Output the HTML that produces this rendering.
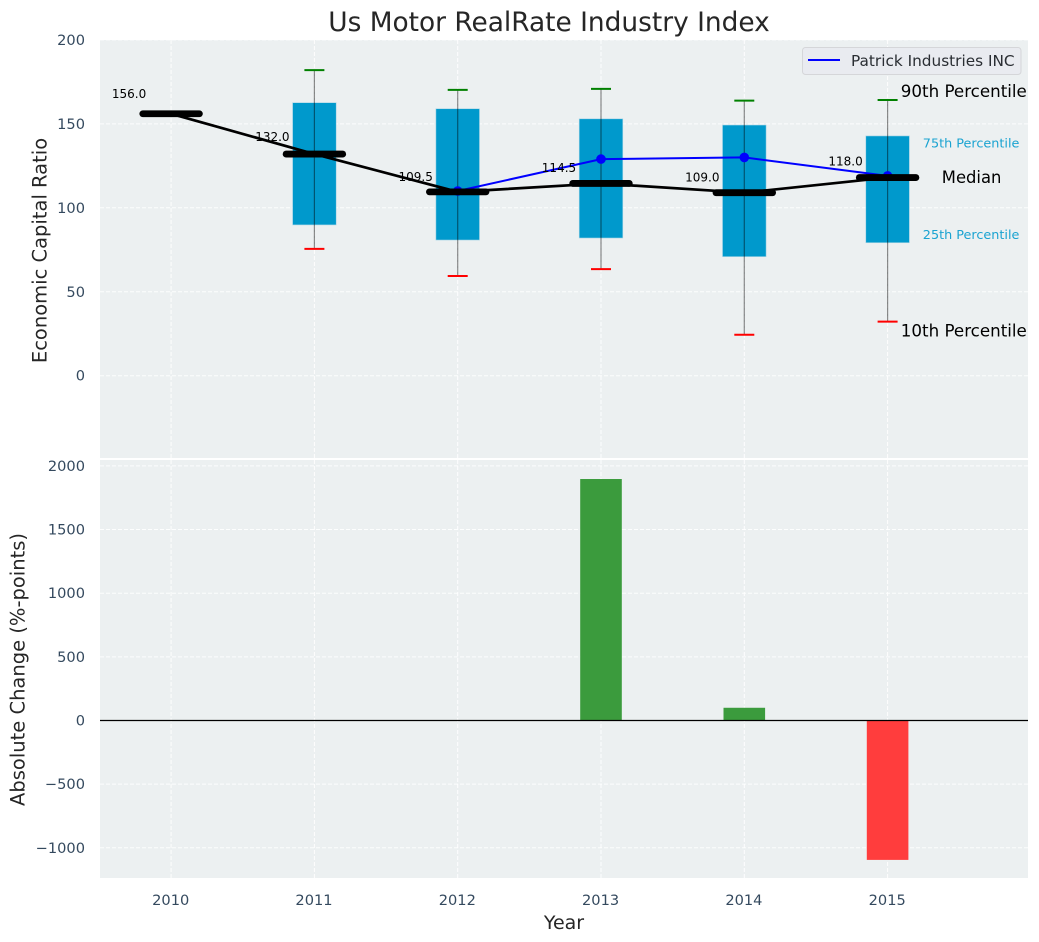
<!DOCTYPE html>
<html>
<head>
<meta charset="utf-8">
<title>Us Motor RealRate Industry Index</title>
<style>
html,body{margin:0;padding:0;background:#fff;width:1039px;height:942px;overflow:hidden}
svg{display:block}
text{font-family:"DejaVu Sans","Liberation Sans",sans-serif}
</style>
</head>
<body>
<svg id="chart" xmlns="http://www.w3.org/2000/svg" width="1039" height="942" viewBox="0 0 1039 942"></svg>
<script>
const years = [2010, 2011, 2012, 2013, 2014, 2015];
const p90 = [null, 182, 170.2, 170.8, 163.8, 164.2];
const p75 = [null, 162.6, 159, 153, 149.3, 142.8];
const p25 = [null, 89.8, 80.8, 82, 70.9, 79.2];
const p10 = [null, 75.5, 59.4, 63.5, 24.4, 32.2];
const medians = [156, 132, 109.5, 114.5, 109, 118];
const company = [null, null, 110, 129, 130, 119];
const changes = [null, null, null, 1897, 100, -1095];
const topTicks = [0, 50, 100, 150, 200];
const bottomTicks = [-1000, -500, 0, 500, 1000, 1500, 2000];

const NS = 'http://www.w3.org/2000/svg';
const svg = document.getElementById('chart');
const L = 100, R = 1028;
const T1 = 40, B1 = 458, T2 = 460, B2 = 878;

const xS = v => 171.1 + (v - 2010) * 143.3;
const yTop = v => 375.7 - v * 1.679;
const yBot = v => 720.5 - v * 0.1273;
const fmtTick = v => (v < 0 ? '\u2212' + Math.abs(v) : String(v));

function mk(tag, attrs, parent) {
  const el = document.createElementNS(NS, tag);
  for (const k in attrs) el.setAttribute(k, attrs[k]);
  (parent || svg).appendChild(el);
  return el;
}
function label(str, attrs, parent) {
  const el = mk('text', attrs, parent);
  el.textContent = str;
  return el;
}
const GRID = {stroke: '#ffffff', 'stroke-width': 1, 'stroke-dasharray': '4 2', 'stroke-opacity': 0.9};
const TICK = '#34495e';

/* panels */
let el = mk('rect', {x: L, y: T1, width: R - L, height: B1 - T1, fill: '#ecf0f1'});


el = mk('rect', {x: L, y: T2, width: R - L, height: B2 - T2, fill: '#ecf0f1'});



/* grid and ticks */
topTicks.forEach(v => {
  let g = mk('line', Object.assign({x1: L, x2: R, y1: yTop(v), y2: yTop(v)}, GRID));
  
  
  let t = label(fmtTick(v), {x: 85, y: yTop(v) + 5, 'text-anchor': 'end', 'font-size': 14.6, fill: TICK});
  
  
});
bottomTicks.forEach(v => {
  let g = mk('line', Object.assign({x1: L, x2: R, y1: yBot(v), y2: yBot(v)}, GRID));
  
  
  let t = label(fmtTick(v), {x: 85, y: yBot(v) + 5, 'text-anchor': 'end', 'font-size': 14.6, fill: TICK});
  
  
});
years.forEach(v => {
  let g = mk('line', Object.assign({x1: xS(v), x2: xS(v), y1: T1, y2: B1}, GRID));
  
  
  g = mk('line', Object.assign({x1: xS(v), x2: xS(v), y1: T2, y2: B2}, GRID));
  
  
  let t = label(String(v), {x: xS(v) - 0.4, y: 905, 'text-anchor': 'middle', 'font-size': 14.6, fill: TICK});
  
  
});

/* percentile boxes */
years.forEach((yr, i) => {
  if (p75[i] === null) return;
  const x = xS(yr);
  let b = mk('rect', {x: x - 21.8, y: yTop(p75[i]), width: 43.6, height: yTop(p25[i]) - yTop(p75[i]), fill: '#0099cc', stroke: '#a9d5e6', 'stroke-width': 0.6});
  
  
});
/* whiskers and caps */
years.forEach((yr, i) => {
  if (p90[i] === null) return;
  const x = xS(yr);
  let w = mk('line', {x1: x, x2: x, y1: yTop(p90[i]), y2: yTop(p10[i]), stroke: '#000', 'stroke-opacity': 0.45, 'stroke-width': 1.2});
  
  
  let c = mk('line', {x1: x - 10, x2: x + 10, y1: yTop(p90[i]), y2: yTop(p90[i]), stroke: '#008000', 'stroke-width': 2});
  
  
  c = mk('line', {x1: x - 10, x2: x + 10, y1: yTop(p10[i]), y2: yTop(p10[i]), stroke: '#ff0000', 'stroke-width': 2});
  
  
});

/* company series */
const cPts = years.map((yr, i) => company[i] === null ? null : xS(yr) + ',' + yTop(company[i])).filter(Boolean).join(' ');
el = mk('polyline', {points: cPts, fill: 'none', stroke: '#0000ff', 'stroke-width': 2});


years.forEach((yr, i) => {
  if (company[i] === null) return;
  let d = mk('circle', {cx: xS(yr), cy: yTop(company[i]), r: 4.8, fill: '#0000ff'});
  
  
});

/* median series */
const mPts = years.map((yr, i) => xS(yr) + ',' + yTop(medians[i])).join(' ');
el = mk('polyline', {points: mPts, fill: 'none', stroke: '#000', 'stroke-width': 2.7});


years.forEach((yr, i) => {
  const x = xS(yr);
  let m = mk('line', {x1: x - 28.3, x2: x + 28.3, y1: yTop(medians[i]), y2: yTop(medians[i]), stroke: '#000', 'stroke-width': 6.8, 'stroke-linecap': 'round'});
  
  
  let t = label(medians[i].toFixed(1), {x: x - 59.2, y: yTop(medians[i] * 1.06), 'font-size': 12, fill: '#000'});
  
  
});

/* annotations for last year */
const last = years.length - 1;
const lx = xS(years[last]);
el = label('90th Percentile', {x: lx + 13.2, y: yTop(p90[last] + 5) + 5.5, 'font-size': 16.7, fill: '#000'});


el = label('75th Percentile', {x: lx + 35.2, y: yTop(p75[last]) + 7 + 4.5, 'font-size': 12.8, fill: '#1aa3d1'});


el = label('Median', {x: lx + 54.2, y: yTop(medians[last]) + 5.5, 'font-size': 16.4, fill: '#000'});


el = label('25th Percentile', {x: lx + 35.2, y: yTop(p25[last]) - 8 + 4.5, 'font-size': 12.8, fill: '#1aa3d1'});


el = label('10th Percentile', {x: lx + 13.2, y: yTop(p10[last] - 5) + 6.5, 'font-size': 16.7, fill: '#000'});



/* change bars */
years.forEach((yr, i) => {
  if (changes[i] === null) return;
  const v = changes[i];
  const y0 = yBot(Math.max(v, 0));
  const y1 = yBot(Math.min(v, 0));
  let b = mk('rect', {x: xS(yr) - 20.8, y: y0, width: 41.6, height: y1 - y0, fill: v >= 0 ? '#3b9b3d' : '#ff3d3d'});
  
  
});
el = mk('line', {x1: L, x2: R, y1: yBot(0), y2: yBot(0), stroke: '#000', 'stroke-width': 1.3});



/* legend */
const legend = mk('g', {});


el = mk('rect', {x: 802.5, y: 47.5, width: 218.5, height: 27, rx: 3, fill: '#e9ebf0', stroke: '#d5d6d9', 'stroke-width': 1}, legend);


el = mk('line', {x1: 808, x2: 840, y1: 60, y2: 60, stroke: '#0000ff', 'stroke-width': 2}, legend);


el = label('Patrick Industries INC', {x: 851, y: 66, 'font-size': 15.3, fill: '#2a2e33'}, legend);



/* titles */
el = label('Us Motor RealRate Industry Index', {x: 549, y: 31, 'text-anchor': 'middle', 'font-size': 26.4, fill: '#262626'});


el = label('Economic Capital Ratio', {x: 0, y: 0, transform: 'translate(46.5,250.5) rotate(-90)', 'text-anchor': 'middle', 'font-size': 19.5, fill: '#262626'});


el = label('Absolute Change (%-points)', {x: 0, y: 0, transform: 'translate(24.5,669.5) rotate(-90)', 'text-anchor': 'middle', 'font-size': 19.5, fill: '#262626'});


el = label('Year', {x: 564, y: 929, 'text-anchor': 'middle', 'font-size': 19, fill: '#262626'});


</script>
</body>
</html>
